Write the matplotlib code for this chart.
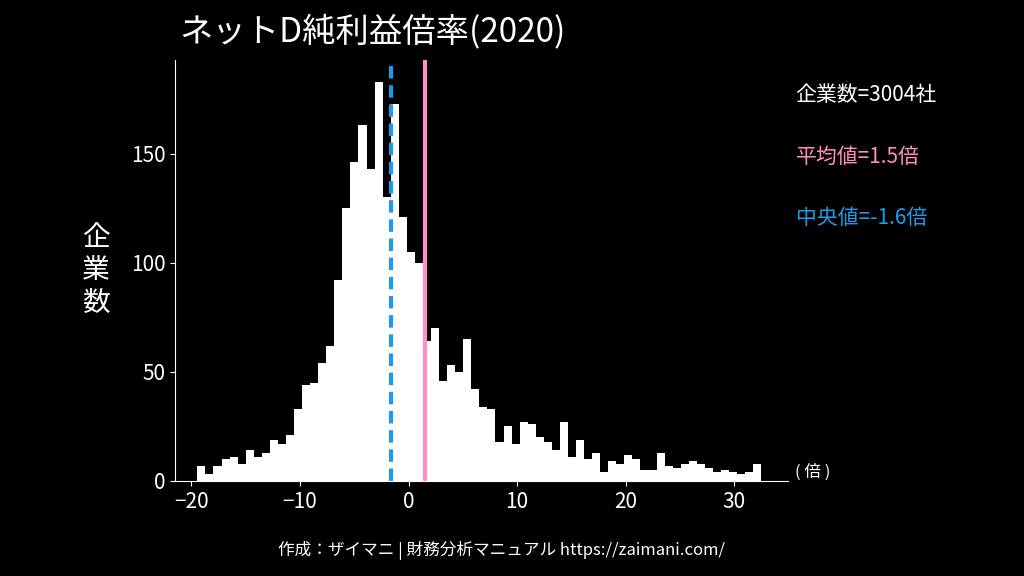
import numpy as np
import matplotlib
matplotlib.use("Agg")
import matplotlib.pyplot as plt
plt.rcParams['font.family'] = ['Noto Sans CJK JP']

bin_start = -19.45
bin_end = 32.5
counts = [7, 3, 7, 10, 11, 8, 14, 11, 13, 19, 17, 21, 33, 44, 45, 54, 62, 92, 125, 146, 163, 143, 183,
          130, 173, 121, 105, 100, 64, 70, 46, 53, 50, 65, 42, 34, 33, 18, 25, 17, 27, 26, 20, 18, 14, 27, 11, 19, 10, 13,
          4, 9, 8, 12, 10, 5, 5, 13, 7, 6, 8, 9, 8, 6, 4, 5, 4, 3, 4, 8]
mean_val = 1.5
median_val = -1.6
n_companies = 3004
title = "ネットD純利益倍率(2020)"

edges = np.linspace(bin_start, bin_end, len(counts) + 1)

fig = plt.figure(figsize=(10.24, 5.76), dpi=100, facecolor='black')
ax = fig.add_axes([0.171, 0.165, 0.599, 0.731], facecolor='black')
ax.bar(edges[:-1], counts, width=np.diff(edges), align='edge', color='white', linewidth=0)
ax.axvline(median_val, color='#1e9be8', lw=3, ls=(0, (3, 1.6)))
ax.axvline(mean_val, color='#ff8fc0', lw=3)
ax.set_xlim(-21.5, 35)
ax.set_ylim(0, 193)
ax.set_xticks([-20, -10, 0, 10, 20, 30])
ax.set_xticklabels(['\u221220', '\u221210', '0', '10', '20', '30'])
ax.set_yticks([0, 50, 100, 150])
for s in ['top', 'right']:
    ax.spines[s].set_visible(False)
for s in ['left', 'bottom']:
    ax.spines[s].set_color('white')
ax.tick_params(colors='white', labelsize=15)
ax.set_ylabel("企\n業\n数", rotation=0, color='white', fontsize=20, labelpad=25, va='center', linespacing=1.1)
ax.text(1.01, 0.02, "( 倍 )", transform=ax.transAxes, color='white', fontsize=12, va='center')
fig.text(0.175, 0.945, title, color='white', fontsize=24, va='center')
fig.text(0.777, 0.835, f"企業数={n_companies}社", color='white', fontsize=15, va='center')
fig.text(0.777, 0.728, f"平均値={mean_val}倍", color='#ff8fc0', fontsize=15, va='center')
fig.text(0.777, 0.621, f"中央値={median_val}倍", color='#1e9be8', fontsize=15, va='center')
fig.text(0.49, 0.045, "作成：ザイマニ | 財務分析マニュアル https://zaimani.com/", color='white', fontsize=12, ha='center', va='center')
fig.savefig("out.png", facecolor='black')
